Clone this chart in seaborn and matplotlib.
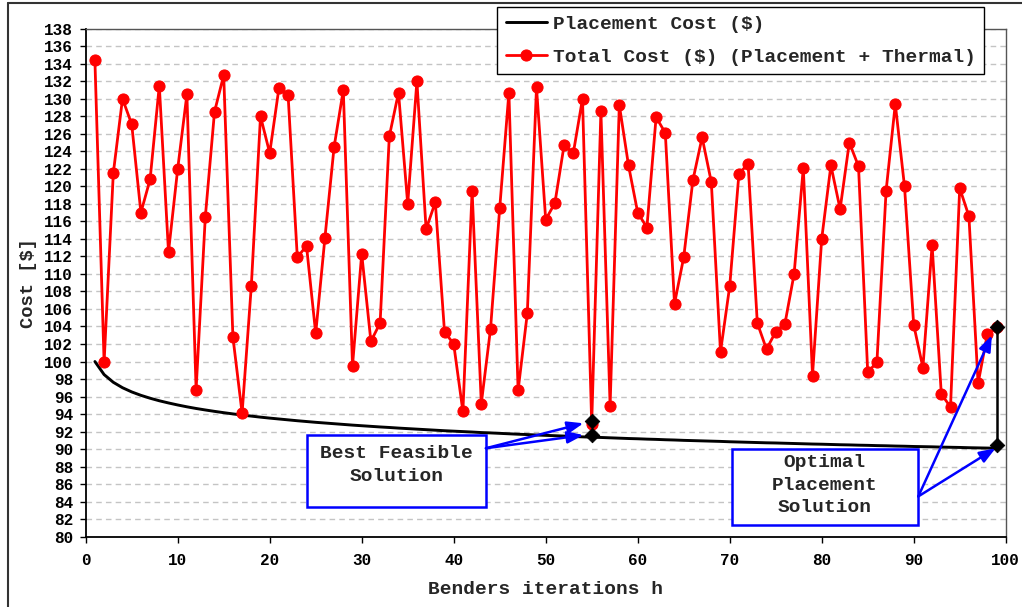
import numpy as np
import pandas as pd
import matplotlib
matplotlib.use("Agg")
import matplotlib.pyplot as plt
from matplotlib.patches import Rectangle
from matplotlib.lines import Line2D
import seaborn as sns

# ---------------- data ----------------
iterations = list(range(1, 100))

placement_cost = [
    100.00, 98.51, 97.63, 97.01, 96.53, 96.14, 95.81, 95.52, 95.27, 95.04,
    94.83, 94.64, 94.47, 94.31, 94.16, 94.02, 93.89, 93.77, 93.65, 93.54,
    93.44, 93.34, 93.24, 93.15, 93.06, 92.98, 92.90, 92.82, 92.74, 92.67,
    92.60, 92.53, 92.47, 92.40, 92.34, 92.28, 92.22, 92.16, 92.10, 92.05,
    92.00, 91.95, 91.89, 91.85, 91.80, 91.75, 91.70, 91.66, 91.61, 91.57,
    91.53, 91.49, 91.44, 91.40, 91.36, 91.33, 91.29, 91.25, 91.21, 91.18,
    91.14, 91.11, 91.07, 91.04, 91.00, 90.97, 90.94, 90.91, 90.88, 90.84,
    90.81, 90.78, 90.75, 90.72, 90.70, 90.67, 90.64, 90.61, 90.58, 90.56,
    90.53, 90.50, 90.48, 90.45, 90.43, 90.40, 90.38, 90.35, 90.33, 90.30,
    90.28, 90.26, 90.23, 90.21, 90.19, 90.16, 90.14, 90.12, 90.10,
]

total_cost = [
    134.4, 99.9, 121.5, 130.0, 127.1, 117.0, 120.8, 131.5, 112.5, 122.0,
    130.5, 96.8, 116.5, 128.5, 132.7, 102.8, 94.1, 108.6, 128.0, 123.8,
    131.2, 130.4, 111.9, 113.2, 103.2, 114.1, 124.5, 131.0, 99.5, 112.3,
    102.3, 104.4, 125.7, 130.7, 118.0, 132.0, 115.1, 118.2, 103.4, 102.0,
    94.3, 119.5, 95.2, 103.7, 117.5, 130.7, 96.7, 105.5, 131.3, 116.2,
    118.1, 124.7, 123.8, 130.0, 92.9, 128.6, 94.9, 129.3, 122.4, 117.0,
    115.3, 127.9, 126.1, 106.6, 111.9, 120.7, 125.6, 120.5, 101.1, 108.6,
    121.4, 122.6, 104.4, 101.4, 103.4, 104.3, 110.0, 122.1, 98.4, 114.0,
    122.4, 117.4, 125.0, 122.3, 98.8, 99.9, 119.5, 129.4, 120.0, 104.2,
    99.3, 113.3, 96.3, 94.8, 119.8, 116.6, 97.5, 103.1, 103.9,
]

# highlighted solutions (diamonds)
marked_h = [55, 55, 99, 99]
marked_cost = [93.2, 91.6, 103.9, 90.5]

series_labels = ["Placement Cost ($)", "Total Cost ($) (Placement + Thermal)"]
x_label = "Benders iterations h"
y_label = "Cost [$]"
box1_text = "Best Feasible\nSolution"
box2_text = "Optimal\nPlacement\nSolution"
y_ticks = list(range(80, 139, 2))
x_ticks = list(range(0, 101, 10))

# ---------------- style ----------------
sns.set_style("white")
plt.rcParams['font.family'] = ['Liberation Mono', 'DejaVu Sans Mono']
plt.rcParams['font.weight'] = 'bold'
plt.rcParams['axes.labelweight'] = 'bold'

W, H = 1022, 607
fig = plt.figure(figsize=(W / 100, H / 100), dpi=100)
fig.patch.set_facecolor("white")
ax = fig.add_axes([85.7 / W, 1 - 536.7 / H, (1005.7 - 85.7) / W, (536.7 - 28.7) / H])

df_place = pd.DataFrame({"h": iterations, "cost": placement_cost})
df_total = pd.DataFrame({"h": iterations, "cost": total_cost})

sns.lineplot(data=df_place, x="h", y="cost", color="black", linewidth=2.1,
             ax=ax, label=series_labels[0], zorder=3)
sns.lineplot(data=df_total, x="h", y="cost", color="red", linewidth=2.0,
             marker="o", markersize=8, markeredgecolor="red",
             markerfacecolor="red", ax=ax, label=series_labels[1], zorder=4)

# vertical connector at the optimal iteration
ax.plot([marked_h[2], marked_h[3]], [marked_cost[2], marked_cost[3]],
        color="black", linewidth=1.8, zorder=5)
sns.scatterplot(x=marked_h, y=marked_cost, marker="D", color="black",
                s=55, edgecolor="black", ax=ax, zorder=6, legend=False)

ax.set_xlim(0, 100)
ax.set_ylim(80, 138)
ax.set_xticks(x_ticks)
ax.set_yticks(y_ticks)
ax.tick_params(axis="both", which="major", direction="out", length=4, width=1,
               bottom=True, left=True, colors="black", labelsize=11.5)
ax.tick_params(axis="x", pad=8)
ax.tick_params(axis="y", pad=5)
for lab in ax.get_xticklabels() + ax.get_yticklabels():
    lab.set_fontweight("bold")

ax.yaxis.grid(True, color="#c4c4c4", linestyle=(0, (4, 3)), linewidth=1)
ax.xaxis.grid(False)
ax.set_axisbelow(True)

for side in ["left", "bottom"]:
    ax.spines[side].set_color("black")
    ax.spines[side].set_linewidth(1.3)
for side in ["top", "right"]:
    ax.spines[side].set_color("#555555")
    ax.spines[side].set_linewidth(1.0)

ax.set_xlabel(x_label, fontsize=14, fontweight="bold", labelpad=9)
ax.set_ylabel(y_label, fontsize=13.5, fontweight="bold", labelpad=5)

leg = ax.legend(loc="upper left", bbox_to_anchor=(497.3 / W, 1 - 6.7 / H),
                bbox_transform=fig.transFigure, frameon=True, fancybox=False,
                edgecolor="black", framealpha=1, fontsize=14,
                handlelength=2.1, handletextpad=0.3, borderpad=0.44,
                labelspacing=0.78, borderaxespad=0)
leg.get_frame().set_linewidth(1.0)
for t in leg.get_texts():
    t.set_fontweight("bold")

# annotation boxes
ax.add_patch(Rectangle((24.0, 83.4), 19.5, 8.2, facecolor="white",
                       edgecolor="blue", linewidth=1.8, zorder=7))
ax.text(33.75, 88.2, box1_text, ha="center", va="center", fontsize=14,
        fontweight="bold", multialignment="center", zorder=8, linespacing=1.45)

ax.add_patch(Rectangle((70.25, 81.3), 20.25, 8.7, facecolor="white",
                       edgecolor="blue", linewidth=1.8, zorder=7))
ax.text(80.3, 85.9, box2_text, ha="center", va="center", fontsize=14,
        fontweight="bold", multialignment="center", zorder=8, linespacing=1.45)

arrow_kw = dict(arrowstyle="-|>,head_length=0.8,head_width=0.3", color="blue",
                lw=1.8, mutation_scale=12, shrinkA=0, shrinkB=0)
for tip in [(54.1, 92.95), (54.1, 91.6)]:
    ax.annotate("", xy=tip, xytext=(43.5, 90.1), arrowprops=arrow_kw, zorder=9)
for tip in [(98.5, 103.0), (98.9, 90.1)]:
    ax.annotate("", xy=tip, xytext=(90.5, 84.6), arrowprops=arrow_kw, zorder=9)

# outer chart border
fig.add_artist(Line2D([8 / W, 8 / W], [0, 1 - 3 / H], transform=fig.transFigure,
                      color="#333333", linewidth=1.5))
fig.add_artist(Line2D([8 / W, 1], [1 - 3 / H, 1 - 3 / H], transform=fig.transFigure,
                      color="#333333", linewidth=1.5))

fig.savefig("out.png", dpi=100, facecolor="white")
